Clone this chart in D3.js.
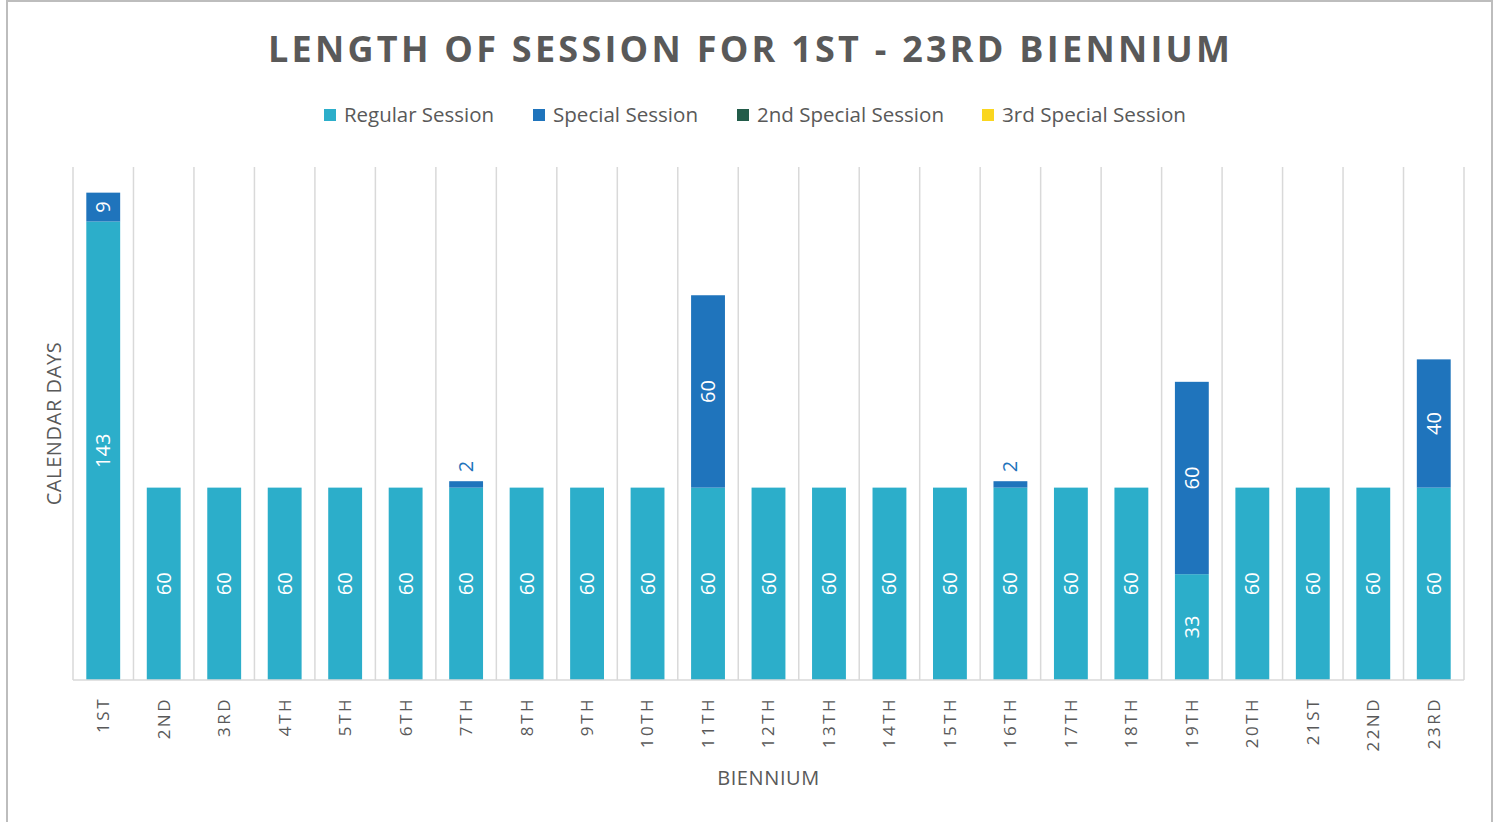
<!DOCTYPE html>
<html>
<head>
<meta charset="utf-8">
<script src="https://cdn.jsdelivr.net/npm/d3@7"></script>
<style>
  body { margin: 0; background: #fff; }
  text { font-family: "Open Sans", sans-serif; }
</style>
</head>
<body>
<script>
const biennium = ["1ST","2ND","3RD","4TH","5TH","6TH","7TH","8TH","9TH","10TH","11TH","12TH",
  "13TH","14TH","15TH","16TH","17TH","18TH","19TH","20TH","21ST","22ND","23RD"];
const regularSession = [143,60,60,60,60,60,60,60,60,60,60,60,60,60,60,60,60,60,33,60,60,60,60];
const specialSession = [9,0,0,0,0,0,2,0,0,0,60,0,0,0,0,2,0,0,60,0,0,0,40];
const special2Session = [0,0,0,0,0,0,0,0,0,0,0,0,0,0,0,0,0,0,0,0,0,0,0];
const special3Session = [0,0,0,0,0,0,0,0,0,0,0,0,0,0,0,0,0,0,0,0,0,0,0];
const seriesNames = ["Regular Session","Special Session","2nd Special Session","3rd Special Session"];
const colors = ["#2CAECA","#1F74BC","#225C49","#FAD61F"];

const width = 1501, height = 822;
const margin = {top: 167, left: 73, right: 37, bottom: 142};
const grey = "#595959";

const svg = d3.select("body").append("svg").attr("width", width).attr("height", height);

// chart border
svg.append("rect").attr("x", 7).attr("y", 1).attr("width", 1485).attr("height", 830)
  .attr("fill", "#fff").attr("stroke", "#bdbdbd").attr("stroke-width", 2);

const rows = biennium.map((b, i) => ({
  b, s0: regularSession[i], s1: specialSession[i], s2: special2Session[i], s3: special3Session[i]
}));
const keys = ["s0","s1","s2","s3"];
const stacked = d3.stack().keys(keys)(rows);

const x = d3.scaleBand().domain(biennium)
  .range([margin.left, width - margin.right]).paddingInner(0.44).paddingOuter(0.22);
const y = d3.scaleLinear().domain([0, 160]).range([height - margin.bottom, margin.top]);

// vertical gridlines between categories
const step = x.step();
const edges = d3.range(biennium.length + 1).map(i => margin.left + i * step);
svg.append("g").selectAll("line").data(edges).enter().append("line")
  .attr("x1", d => d).attr("x2", d => d)
  .attr("y1", y(160)).attr("y2", y(0))
  .attr("stroke", "#d9d9d9").attr("stroke-width", 1.5);

// bars
const layer = svg.append("g").selectAll("g").data(stacked).enter().append("g")
  .attr("fill", (d, i) => colors[i]);
layer.selectAll("rect").data(d => d.filter(p => p[1] > p[0])).enter().append("rect")
  .attr("x", d => x(d.data.b))
  .attr("width", x.bandwidth())
  .attr("y", d => y(d[1]))
  .attr("height", d => y(d[0]) - y(d[1]));

// x axis line
svg.append("line").attr("x1", margin.left).attr("x2", width - margin.right)
  .attr("y1", y(0)).attr("y2", y(0)).attr("stroke", "#d9d9d9").attr("stroke-width", 1.5);

// data labels
const labels = svg.append("g");
stacked.forEach((s, si) => {
  s.forEach(p => {
    const v = p[1] - p[0];
    if (v <= 0) return;
    const cx = x(p.data.b) + x.bandwidth() / 2;
    const h = y(p[0]) - y(p[1]);
    let cy, fill, anchor;
    if (h < 20) {
      cy = y(p[1]) - 9; fill = colors[si]; anchor = "start";
    } else {
      cy = (y(p[0]) + y(p[1])) / 2; fill = "#fff"; anchor = "middle";
    }
    labels.append("text")
      .attr("transform", `translate(${cx},${cy}) rotate(-90)`)
      .attr("text-anchor", anchor).attr("dy", "0.35em")
      .attr("font-size", 20).attr("fill", fill)
      .text(v);
  });
});

// x tick labels
svg.append("g").selectAll("text").data(biennium).enter().append("text")
  .attr("transform", d => `translate(${x(d) + x.bandwidth() / 2},${y(0) + 17}) rotate(-90)`)
  .attr("text-anchor", "end").attr("dy", "0.35em")
  .attr("font-size", 17).attr("letter-spacing", 2.5).attr("fill", grey)
  .text(d => d);

// axis titles
svg.append("text").attr("x", (margin.left + width - margin.right) / 2).attr("y", 785)
  .attr("text-anchor", "middle").attr("font-size", 20).attr("letter-spacing", 0.6)
  .attr("fill", grey).text("BIENNIUM");
svg.append("text")
  .attr("transform", `translate(61,${(y(0) + y(160)) / 2}) rotate(-90)`)
  .attr("text-anchor", "middle").attr("font-size", 20).attr("letter-spacing", 0.6)
  .attr("fill", grey).text("CALENDAR DAYS");

// title
svg.append("text").attr("x", 749).attr("y", 62).attr("text-anchor", "middle")
  .attr("font-size", 36).attr("font-weight", "bold").attr("fill", grey)
  .attr("textLength", 962).attr("lengthAdjust", "spacing")
  .text("LENGTH OF SESSION FOR 1ST - 23RD BIENNIUM");

// legend
const legendX = [324, 533, 737, 982];
const legendW = [150, 145, 187, 184];
const legend = svg.append("g").selectAll("g").data(seriesNames).enter().append("g")
  .attr("transform", (d, i) => `translate(${legendX[i]},0)`);
legend.append("rect").attr("x", 0).attr("y", 109).attr("width", 12).attr("height", 12)
  .attr("fill", (d, i) => colors[i]);
legend.append("text").attr("x", 20).attr("y", 122).attr("font-size", 20).attr("fill", grey)
  .attr("textLength", (d, i) => legendW[i]).attr("lengthAdjust", "spacingAndGlyphs")
  .text(d => d);
</script>
</body>
</html>
